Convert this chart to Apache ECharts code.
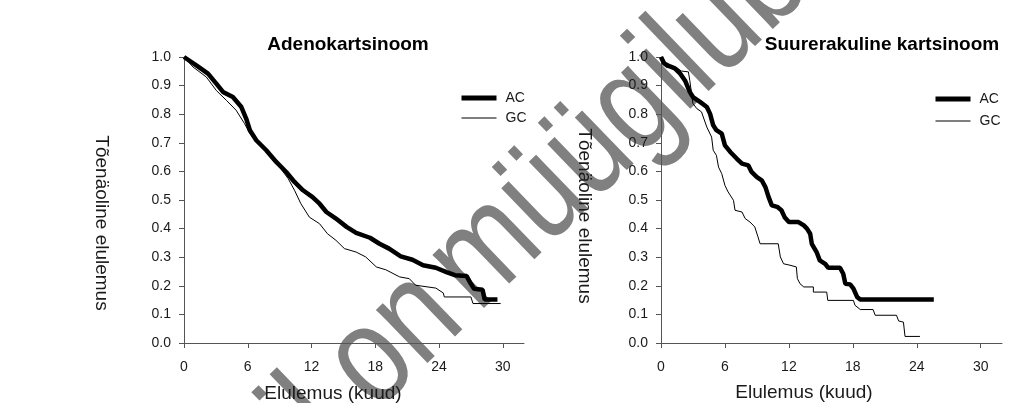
<!DOCTYPE html>
<html>
<head>
<meta charset="utf-8">
<script src="https://cdn.jsdelivr.net/npm/echarts@6/dist/echarts.min.js"></script>
<style>
  html, body { margin: 0; padding: 0; background: #fff; }
  #chart { width: 1026px; height: 403px; }
</style>
</head>
<body>
<div id="chart"></div>
<script>
// x = kuud, y = tõenäosus
var xTicks = [0, 6, 12, 18, 24, 30];
var seriesNames = ['AC', 'GC'];
var titles = ['Adenokartsinoom', 'Suurerakuline kartsinoom'];

var adenoAC = [[0,1.0],[1.16,0.971],[2.26,0.942],[3.04,0.907],[3.67,0.878],[4.6,0.86],[5.4,0.825],[5.86,0.784],[6.2,0.744],[6.8,0.709],[7.74,0.674],[8.68,0.633],[9.62,0.598],[10.4,0.563],[11.2,0.534],[12.1,0.51],[12.76,0.487],[13.4,0.458],[14.3,0.435],[15.3,0.406],[16.2,0.385],[17.5,0.368],[18.4,0.347],[19.3,0.33],[20.4,0.303],[21.5,0.291],[22.5,0.272],[23.7,0.263],[24.7,0.248],[25.5,0.237],[26.6,0.234],[27.0,0.207],[27.3,0.19],[28.1,0.186],[28.3,0.152],[29.5,0.152]];
var adenoGC = [[0,1.0],[0.85,0.965],[2.1,0.93],[3.04,0.883],[4.0,0.848],[4.9,0.814],[5.7,0.767],[6.2,0.732],[7.1,0.691],[8.05,0.662],[9.0,0.615],[9.8,0.575],[10.4,0.534],[11.0,0.487],[11.8,0.44],[12.76,0.417],[13.5,0.382],[14.3,0.359],[15.1,0.33],[16.2,0.318],[17.1,0.301],[18.1,0.266],[19.0,0.256],[20.3,0.231],[21.2,0.225],[21.8,0.202],[23.7,0.192],[24.4,0.175],[24.5,0.161],[27.0,0.161],[27.2,0.138],[29.8,0.138]];
var largeAC = [[0,1.0],[0.3,0.977],[0.84,0.967],[1.3,0.96],[1.8,0.942],[2.25,0.918],[2.7,0.878],[3.0,0.86],[3.66,0.843],[4.3,0.825],[4.6,0.802],[4.9,0.761],[5.2,0.744],[5.7,0.732],[6.0,0.691],[6.5,0.668],[7.1,0.645],[7.6,0.627],[8.2,0.621],[8.5,0.598],[9.0,0.58],[9.45,0.569],[9.8,0.545],[10.1,0.51],[10.4,0.481],[10.9,0.476],[11.3,0.464],[11.6,0.44],[12.0,0.423],[12.9,0.423],[13.4,0.411],[13.7,0.4],[14.0,0.382],[14.15,0.347],[14.6,0.318],[14.9,0.289],[15.4,0.277],[15.7,0.263],[16.8,0.263],[17.1,0.242],[17.3,0.207],[17.75,0.205],[18.06,0.19],[18.4,0.161],[18.7,0.152],[25.6,0.152]];
var largeGC = [[0,1.0],[0.15,0.977],[0.5,0.963],[1.47,0.963],[1.9,0.951],[2.57,0.948],[2.7,0.918],[3.0,0.837],[3.35,0.82],[3.8,0.808],[4.3,0.755],[4.75,0.72],[4.9,0.674],[5.2,0.656],[5.4,0.615],[5.7,0.592],[6.0,0.551],[6.3,0.528],[6.8,0.499],[6.95,0.464],[7.6,0.458],[7.9,0.435],[8.35,0.423],[8.8,0.406],[9.1,0.371],[9.3,0.347],[11.0,0.347],[11.2,0.301],[11.5,0.277],[12.1,0.272],[12.7,0.266],[12.8,0.225],[13.05,0.207],[13.4,0.196],[14.3,0.196],[14.3,0.178],[15.55,0.178],[15.65,0.149],[18.06,0.149],[18.2,0.132],[18.7,0.117],[19.9,0.117],[20.1,0.097],[22.1,0.097],[22.3,0.077],[22.75,0.073],[22.9,0.023],[24.3,0.023]];

var FONT = 'Liberation Sans, Arial, sans-serif';
var chart = echarts.init(document.getElementById('chart'));

function xAxisFor(i) {
    return {
        type: 'value', gridIndex: i, min: 0, max: 32,
        splitLine: { show: false },
        axisLine: { lineStyle: { color: '#555', width: 1 } },
        axisTick: { customValues: xTicks, length: 5, lineStyle: { color: '#555' } },
        axisLabel: { customValues: xTicks, color: '#1a1a1a', fontSize: 14, fontFamily: FONT, margin: 17 }
    };
}
function yAxisFor(i) {
    return {
        type: 'value', gridIndex: i, min: 0, max: 1, interval: 0.1,
        splitLine: { show: false },
        axisLine: { show: true, lineStyle: { color: '#555', width: 1 } },
        axisTick: { show: true, length: 5, lineStyle: { color: '#555' } },
        axisLabel: { color: '#1a1a1a', fontSize: 14, fontFamily: FONT, margin: 13,
            formatter: function (v) { return v.toFixed(1); } }
    };
}
function line(name, data, idx, width) {
    return {
        name: name, type: 'line', data: data, xAxisIndex: idx, yAxisIndex: idx,
        symbol: 'none', lineStyle: { color: '#000', width: width }, itemStyle: { color: '#000' },
        z: 3
    };
}
function axisName(text, x, y, rot) {
    return {
        type: 'text', x: x, y: y, rotation: rot, z: 5,
        style: { text: text, fill: '#1a1a1a', fontSize: 19, fontFamily: FONT, align: 'center', verticalAlign: 'middle' }
    };
}
function legendFor(left, top, gap) {
    return {
        data: [
            { name: seriesNames[0], lineStyle: { width: 5, color: '#000' } },
            { name: seriesNames[1], lineStyle: { width: 1, color: '#000' } }
        ],
        orient: 'vertical', left: left, top: top, itemGap: gap,
        itemWidth: 35, itemHeight: 14, selectedMode: false, padding: 0,
        itemStyle: { opacity: 0 },
        textStyle: { fontSize: 14, color: '#1a1a1a', fontFamily: FONT, padding: [0, 0, 0, 4] }
    };
}
function watermark(text, x, y) {
    return {
        type: 'text', x: x, y: y, rotation: 44 * Math.PI / 180, scaleX: 0.82, scaleY: 1,
        z: -10, silent: true,
        style: { text: text, fill: '#808080', fontSize: 140, fontFamily: FONT,
                 align: 'left', verticalAlign: 'bottom' }
    };
}

chart.setOption({
    animation: false,
    backgroundColor: '#fff',
    title: [
        { text: titles[0], left: 348, top: 35, textAlign: 'center', padding: 0,
          textStyle: { fontSize: 19, fontWeight: 'bold', color: '#000', fontFamily: FONT } },
        { text: titles[1], left: 882, top: 35, textAlign: 'center', padding: 0,
          textStyle: { fontSize: 19, fontWeight: 'bold', color: '#000', fontFamily: FONT } }
    ],
    legend: [legendFor(459, 91, 6), legendFor(933, 92, 8)],
    grid: [
        { left: 184, top: 57, width: 340, height: 286 },
        { left: 661, top: 57, width: 341, height: 286 }
    ],
    xAxis: [xAxisFor(0), xAxisFor(1)],
    yAxis: [yAxisFor(0), yAxisFor(1)],
    series: [
        line('AC', adenoAC, 0, 4.5),
        line('GC', adenoGC, 0, 1),
        line('AC', largeAC, 1, 4.5),
        line('GC', largeGC, 1, 1)
    ],
    graphic: [
        // vesimärk, kahes osas (sõnavahe on kitsas)
        watermark('Ravimil on', 104, 719),
        watermark('müügiluba lõppenud', 500, 336),
        axisName('Tõenäoline elulemus', 101, 223, -Math.PI / 2),
        axisName('Tõenäoline elulemus', 584, 216, -Math.PI / 2),
        axisName('Elulemus (kuud)', 333, 394, 0),
        axisName('Elulemus (kuud)', 804, 393, 0)
    ]
});
</script>
</body>
</html>
